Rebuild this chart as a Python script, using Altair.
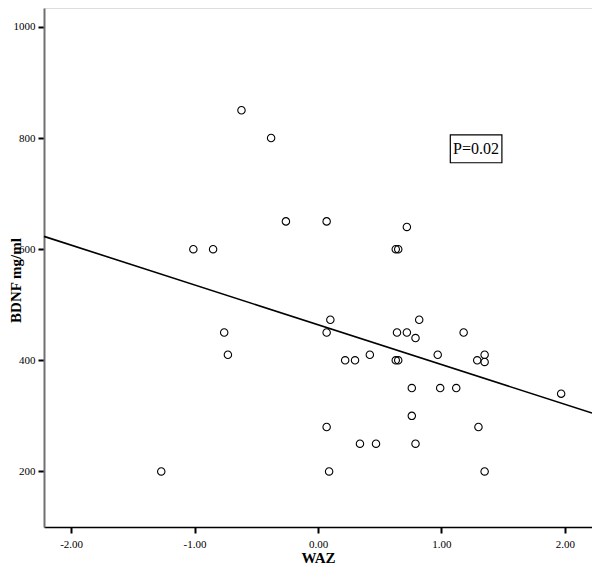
import altair as alt
import pandas as pd

# Data
waz = [-0.62, -0.38, -0.26, 0.07, 0.72, -1.01, -0.85, 0.63, 0.65, 0.10,
       -0.76, 0.07, 0.64, 0.72, 0.79, 0.82, -0.73, 0.22, 0.30, 0.42,
       0.63, 0.65, 0.97, 1.18, 1.29, 1.35, 1.35, 0.76, 0.99, 1.12,
       1.97, 0.76, 0.07, 1.30, 0.34, 0.47, 0.79, -1.27, 0.09, 1.35]
bdnf = [850, 800, 650, 650, 640, 600, 600, 600, 600, 473,
        450, 450, 450, 450, 440, 473, 410, 400, 400, 410,
        400, 400, 410, 450, 400, 410, 397, 350, 350, 350,
        340, 300, 280, 280, 250, 250, 250, 200, 200, 200]

fit_x = [-2.22, 2.22]
fit_y = [623, 305]

x_ticks = [-2, -1, 0, 1, 2]
y_ticks = [200, 400, 600, 800, 1000]
x_domain = [-2.22, 2.22]
y_domain = [100, 1034]

p_label = ["P=0.02"]
p_x = [1.28]
p_y = [780]
box_x, box_x2 = [1.072], [1.49]
box_y, box_y2 = [805.5], [755.5]

FONT = "Liberation Serif"

pts = pd.DataFrame({"WAZ": waz, "BDNF": bdnf})
fit = pd.DataFrame({"WAZ": fit_x, "BDNF": fit_y})
ann = pd.DataFrame({"label": p_label, "x": p_x, "y": p_y,
                    "bx": box_x, "bx2": box_x2, "by": box_y, "by2": box_y2})

xs = alt.Scale(domain=x_domain, nice=False, zero=False)
ys = alt.Scale(domain=y_domain, nice=False, zero=False)

x_axis = alt.Axis(
    title="WAZ", values=x_ticks, grid=False,
    labelExpr="replace(format(datum.value, '.2f'), '\u2212', '-')",
    labelFont=FONT, labelFontSize=11, labelColor="black", labelPadding=5,
    tickColor="black", tickSize=6, tickWidth=2,
    domainColor="black", domainWidth=1.5,
    titleFont=FONT, titleFontSize=15, titleFontWeight="bold", titleColor="black",
    titlePadding=1,
)
y_axis = alt.Axis(
    title="BDNF mg/ml", values=y_ticks, grid=False, format="d",
    labelFont=FONT, labelFontSize=11, labelColor="black", labelPadding=3,
    tickColor="black", tickSize=6, tickWidth=2,
    domainColor="#707070", domainWidth=2,
    titleFont=FONT, titleFontSize=15, titleFontWeight="bold", titleColor="black",
    titleAngle=-90, titleX=-29, titleY=272, titleAlign="center", titleBaseline="middle",
)

points = alt.Chart(pts).mark_point(
    shape="circle", filled=False, color="black", size=55, strokeWidth=1.1, opacity=1
).encode(
    x=alt.X("WAZ:Q", scale=xs, axis=x_axis),
    y=alt.Y("BDNF:Q", scale=ys, axis=y_axis),
)

line = alt.Chart(fit).mark_line(color="black", strokeWidth=1.6).encode(
    x=alt.X("WAZ:Q", scale=xs),
    y=alt.Y("BDNF:Q", scale=ys),
)

box = alt.Chart(ann).mark_rect(fill="white", stroke="black", strokeWidth=1.2).encode(
    x=alt.X("bx:Q", scale=xs), x2="bx2:Q",
    y=alt.Y("by:Q", scale=ys), y2="by2:Q",
)

text = alt.Chart(ann).mark_text(font=FONT, fontSize=16, color="black").encode(
    x=alt.X("x:Q", scale=xs),
    y=alt.Y("y:Q", scale=ys),
    text="label:N",
)

chart = alt.layer(line, points, box, text).properties(
    width=548, height=519,
    autosize=alt.AutoSizeParams(type="none"),
    padding={"left": 36, "top": 0, "right": 0, "bottom": 37},
).configure_view(
    stroke="black", strokeWidth=1.5
).configure(background="white")

chart.save("out.html", embed_options={"renderer": "svg", "actions": False})
